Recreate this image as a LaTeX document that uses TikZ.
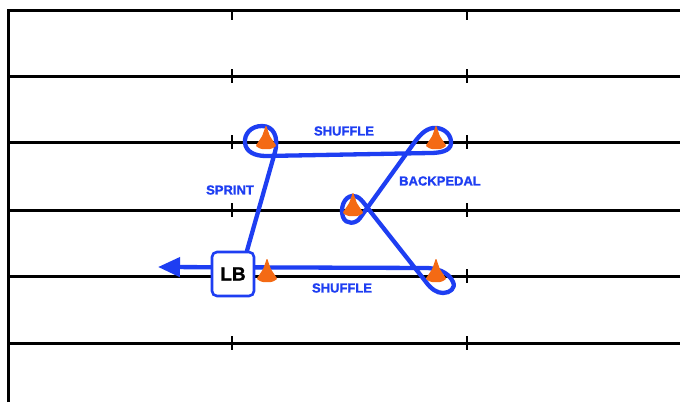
\documentclass[tikz,border=0pt]{standalone}
\usepackage{fontspec}
\setmainfont{Liberation Sans}
\newfontfamily\heavyfont{Liberation Sans Bold}[FakeBold=1.4]
\usetikzlibrary{arrows.meta}
\definecolor{route}{RGB}{30,62,242}
\definecolor{conecol}{RGB}{244,106,20}
\pgfdeclarelayer{bg}
\pgfsetlayers{bg,main}
\tikzset{
  yard/.style={line width=3pt, black},
  yardtick/.style={line width=2.4pt, black},
  routepath/.style={route, line width=4.3pt, line join=round, line cap=round},
  lbbox/.style={draw=route, line width=2.6pt, fill=white, rounded corners=5pt,
    minimum width=42pt, minimum height=44pt, inner sep=0pt,
    font=\heavyfont\fontsize{19}{19}\selectfont},
  drill/.style={text=route, font=\heavyfont\fontsize{13}{13}\selectfont, inner sep=0pt},
  pics/trafficcone/.style={code={
    \fill[conecol, rounded corners=1.2pt] (0,-18) -- (3.8,-7) -- (10.5,3) -- (5,6) -- (-5,6) -- (-10.5,3) -- (-3.8,-7) -- cycle;
  }}
}
\begin{document}
\begin{tikzpicture}[x=1pt,y=-1pt]
\useasboundingbox (0,0) rectangle (680,402);

% LB box
\node[lbbox] (lb) at (233,274) {LB};
\coordinate (sprintstart) at ([xshift=14pt]lb.north);

\begin{pgfonlayer}{bg}
  \fill[white] (0,0) rectangle (680,402);
  % yard lines
  \draw[yard] (8,402) -- (8,10) -- (680,10);
  \foreach \y in {76,142,210,276,343} \draw[yard] (8,\y) -- (680,\y);
  \foreach \x in {232,467} {
    \draw[yardtick] (\x,10) -- (\x,20);
    \foreach \y in {76,142,210,276,343} \draw[yardtick] (\x,\y-7) -- (\x,\y+7);
  }
  % route
  \draw[routepath, -{Triangle[length=22pt,width=19pt]}]
    (sprintstart) -- (275,152)
    .. controls (279,136) and (273,126) .. (262,126)
    .. controls (251,126) and (244,134) .. (245,143)
    .. controls (246,152) and (255,156) .. (266,156)
    -- (430,153)
    .. controls (445,153) and (452,149) .. (451,141)
    .. controls (450,132) and (441,127) .. (433,128)
    .. controls (425,129) and (419,136) .. (414,143)
    -- (360,218)
    .. controls (356,224) and (346,225) .. (343,217)
    .. controls (340,208) and (344,197) .. (352,196)
    .. controls (359,195) and (363,202) .. (370,211)
    -- (426,282)
    .. controls (431,289) and (437,293) .. (443,293)
    .. controls (450,293) and (456,288) .. (453,282)
    .. controls (450,275) and (442,269) .. (428,268)
    -- (158,267);
\end{pgfonlayer}

% cones
\pic at (266,143) {trafficcone};
\pic at (436,143) {trafficcone};
\pic at (353,210) {trafficcone};
\pic at (436,276) {trafficcone};
\pic at (267,276) {trafficcone};

% labels
\node[drill] (shuffletop) at (344,131) {SHUFFLE};
\node[drill] (sprint) at (230,190) {SPRINT};
\node[drill] (backpedal) at (440,181) {BACKPEDAL};
\node[drill] (shufflebot) at (342,288) {SHUFFLE};
\end{tikzpicture}
\end{document}
